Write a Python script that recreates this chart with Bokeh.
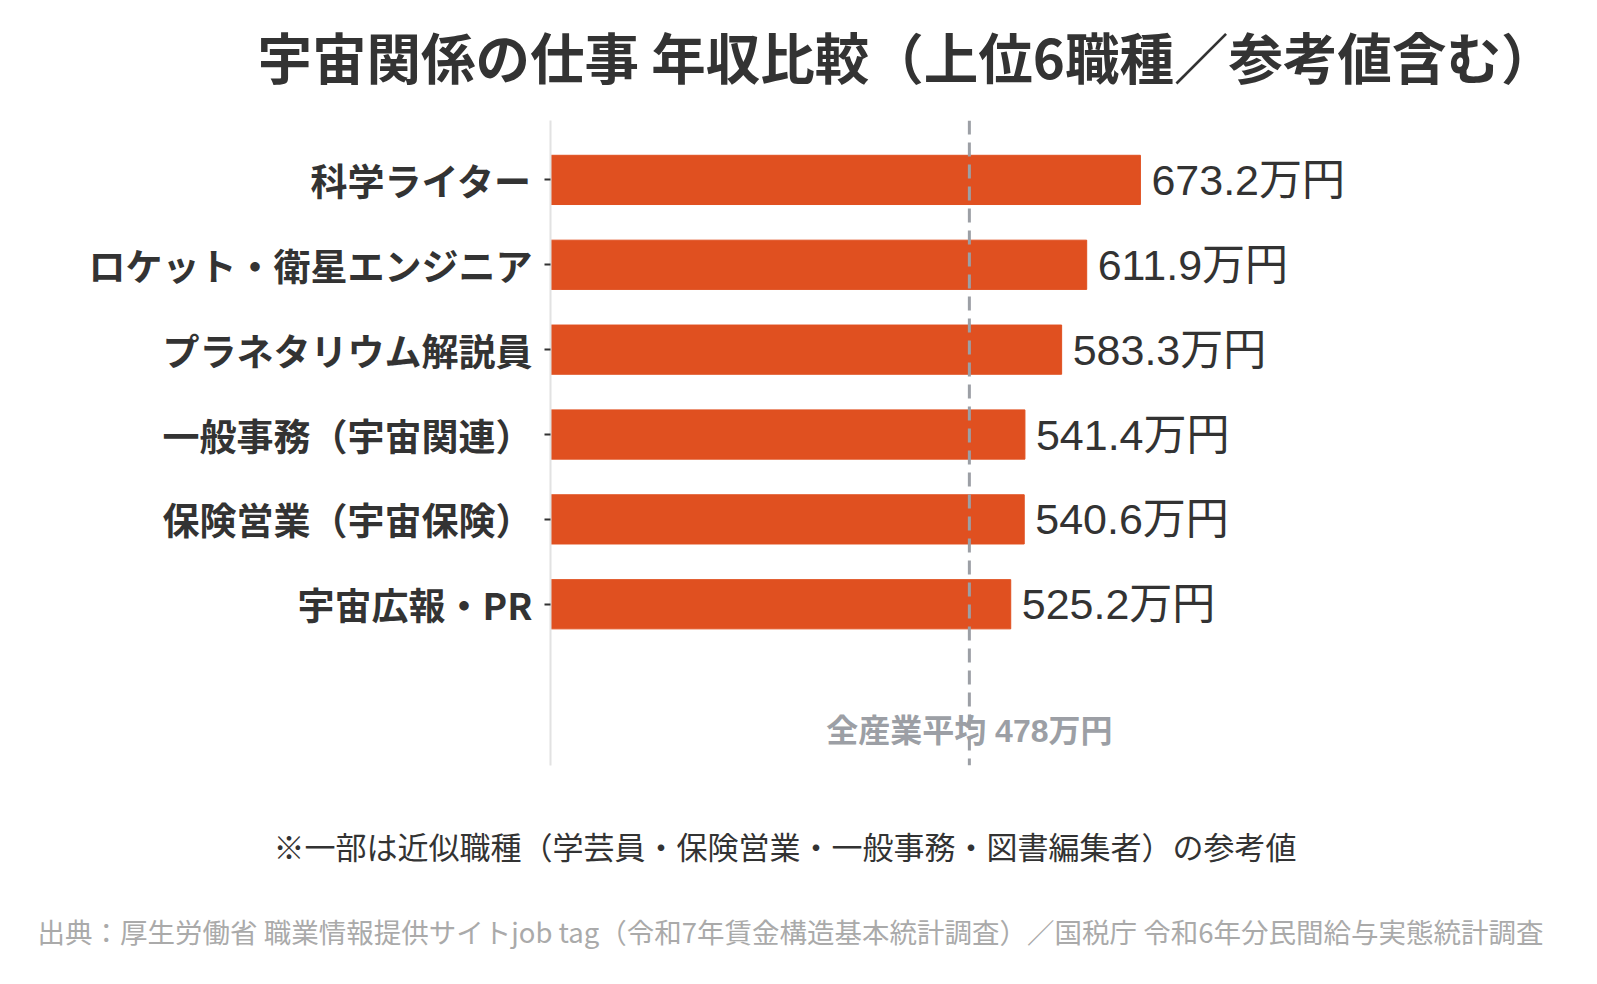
from bokeh.plotting import figure
from bokeh.models import ColumnDataSource, Range1d, FixedTicker, Span, Label, Title
from bokeh.core.properties import value
from bokeh.embed import file_html
from bokeh.resources import INLINE

# ---- data ----
jobs = ["科学ライター", "ロケット・衛星エンジニア", "プラネタリウム解説員",
        "一般事務（宇宙関連）", "保険営業（宇宙保険）", "宇宙広報・PR"]
salaries = [673.2, 611.9, 583.3, 541.4, 540.6, 525.2]
value_labels = ["673.2万円", "611.9万円", "583.3万円", "541.4万円", "540.6万円", "525.2万円"]
avg_value = 478
avg_label = "全産業平均 478万円"
title_text = "宇宙関係の仕事 年収比較（上位6職種／参考値含む）"
note_text = "※一部は近似職種（学芸員・保険営業・一般事務・図書編集者）の参考値"
source_text = "出典：厚生労働省 職業情報提供サイトjob tag（令和7年賃金構造基本統計調査）／国税庁 令和6年分民間給与実態統計調査"

FONT = "Noto Sans CJK JP"
NUMFONT = "Liberation Sans, Noto Sans CJK JP"
BAR = "#E05020"
DARK = "#333333"
GRAY = "#9c9fa5"

# ---- layout (pixels) ----
W, H = 1597, 984
FL, FR, FT, FB = 550, 1400, 120, 765
X0, X1 = 0, 970
n = len(jobs)
Y0, Y1 = -1.9, n - 1 + 0.7


def px_to_y(py):
    return Y1 - (py - FT) * (Y1 - Y0) / (FB - FT)


ypos = [n - 1 - i for i in range(n)]
src = ColumnDataSource(dict(y=ypos, v=salaries, lab=value_labels))

p = figure(width=W, height=H, output_backend="svg", toolbar_location=None,
           x_range=Range1d(X0, X1), y_range=Range1d(Y0, Y1),
           x_axis_location=None, min_border_left=FL, min_border_right=W - FR,
           min_border_top=FT, min_border_bottom=H - FB)
p.outline_line_color = None
p.grid.visible = False
p.background_fill_color = "white"
p.border_fill_color = "white"

p.hbar(y="y", right="v", left=0, height=0.58, source=src, color=BAR)

p.add_layout(Span(location=avg_value, dimension="height", line_color=GRAY,
                  line_width=3, line_dash="14 8"))

p.text(x="v", y="y", text="lab", source=src, x_offset=11,
       text_baseline="middle", text_align="left", text_font=value(NUMFONT),
       text_font_size="43px", text_color=DARK)

p.add_layout(Label(x=avg_value, y=px_to_y(730), text=avg_label, text_align="center",
                   text_baseline="middle", text_font=NUMFONT, text_font_size="32px",
                   text_font_style="bold", text_color=GRAY))

ax = p.yaxis[0]
ax.ticker = FixedTicker(ticks=ypos)
ax.major_label_overrides = {y: j for y, j in zip(ypos, jobs)}
ax.major_label_text_font = FONT
ax.major_label_text_font_size = "37px"
ax.major_label_text_font_style = "bold"
ax.major_label_text_color = DARK
ax.major_label_standoff = 12
ax.major_tick_out = 6
ax.major_tick_in = 0
ax.major_tick_line_color = DARK
ax.major_tick_line_width = 2
ax.minor_tick_line_color = None
ax.axis_line_color = "#e2e2e2"
ax.axis_line_width = 2


def spacer(h):
    return Title(text=" ", text_font_size="1px", standoff=h, text_color="white")


# above: nearest to frame first
p.title = None
p.add_layout(spacer(23), "above")
p.add_layout(Title(text=title_text, align="left", offset=257 - FL, text_font=FONT,
                   text_font_size="54.5px", text_font_style="bold", text_color=DARK,
                   standoff=0), "above")

# below: nearest to frame first
p.add_layout(spacer(52), "below")
p.add_layout(Title(text=note_text, align="left", offset=273 - FL, text_font=FONT,
                   text_font_size="31px", text_font_style="normal", text_color=DARK,
                   standoff=0), "below")
p.add_layout(spacer(38), "below")
p.add_layout(Title(text=source_text, align="left", offset=37 - FL, text_font=FONT,
                   text_font_size="27.5px", text_font_style="normal", text_color="#aaaaaa",
                   standoff=0), "below")

open("out.html", "w").write(file_html(p, INLINE))
